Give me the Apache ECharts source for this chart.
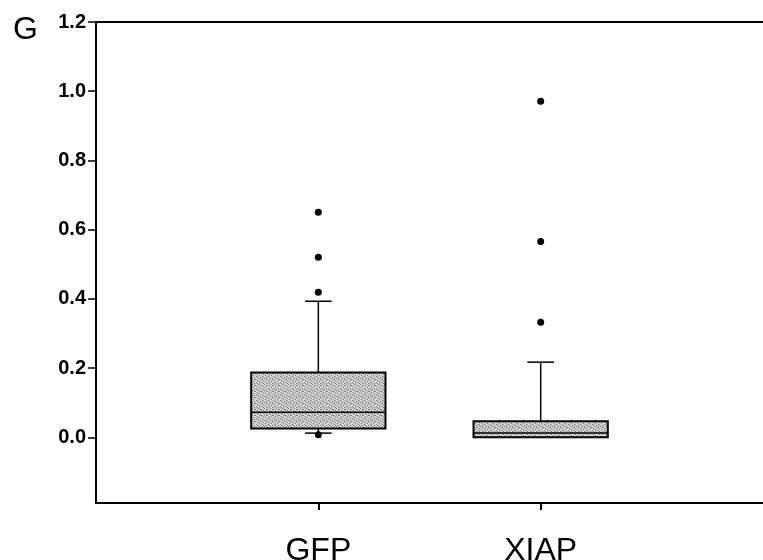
<!DOCTYPE html>
<html>
<head>
<meta charset="utf-8">
<script src="https://cdn.jsdelivr.net/npm/echarts@6/dist/echarts.min.js"></script>
<style>
  html, body { margin: 0; padding: 0; background: #fff; }
  #myChart { width: 763px; height: 560px; }
</style>
</head>
<body>
<div id="myChart"></div>
<script>
var categories = ['GFP', 'XIAP'];
var categoryPos = [1, 2];
var whiskerLow = [0.012, 0.0];
var quartile1 = [0.025, 0.0];
var median = [0.072, 0.012];
var quartile3 = [0.187, 0.046];
var whiskerHigh = [0.393, 0.217];
var outliersGFP = [0.650, 0.520, 0.419, 0.007];
var outliersXIAP = [0.971, 0.566, 0.332];
var yTicks = [0, 0.2, 0.4, 0.6, 0.8, 1.0, 1.2];

// stipple texture for the boxes
var tex = document.createElement('canvas');
tex.width = 6; tex.height = 6;
var tctx = tex.getContext('2d');
tctx.fillStyle = '#d0d0d0';
tctx.fillRect(0, 0, 6, 6);
tctx.fillStyle = '#777';
[[0,0],[3,1],[5,2],[1,3],[4,4],[2,5],[5,5],[2,1]].forEach(function (p) { tctx.fillRect(p[0], p[1], 1, 1); });

var boxData = categoryPos.map(function (x, i) {
    return [x, whiskerLow[i], quartile1[i], median[i], quartile3[i], whiskerHigh[i]];
});
var outlierData = [];
outliersGFP.forEach(function (v) { outlierData.push([categoryPos[0], v]); });
outliersXIAP.forEach(function (v) { outlierData.push([categoryPos[1], v]); });

var myChart = echarts.init(document.getElementById('myChart'));
var option = {
    animation: false,
    graphic: [{
        type: 'text', left: 13, top: 14,
        style: { text: 'G', font: '32px "Liberation Sans", Arial', fill: '#000' }
    }],
    grid: { left: 96, right: 0, top: 22, bottom: 57, outerBoundsMode: 'none', containLabel: false },
    xAxis: [{
        type: 'value', min: 0, max: 3,
        splitLine: { show: false },
        axisLine: { show: true, onZero: false, lineStyle: { color: '#000', width: 2 } },
        axisTick: { show: true, customValues: categoryPos, length: 7, lineStyle: { color: '#000', width: 2 } },
        axisLabel: {
            customValues: categoryPos, margin: 32,
            formatter: function (v) { return categories[categoryPos.indexOf(v)]; },
            fontFamily: '"Liberation Sans", Arial', fontSize: 32, color: '#000'
        }
    }, {
        type: 'value', min: 0, max: 3, position: 'top',
        splitLine: { show: false },
        axisLine: { show: true, onZero: false, lineStyle: { color: '#000', width: 2 } },
        axisTick: { show: false }, axisLabel: { show: false }
    }],
    yAxis: {
        type: 'value', min: -0.19, max: 1.2,
        splitLine: { show: false },
        axisLine: { show: true, onZero: false, lineStyle: { color: '#000', width: 2 } },
        axisTick: { show: true, customValues: yTicks, length: 8, lineStyle: { color: '#000', width: 1.5 } },
        axisLabel: {
            customValues: yTicks, margin: 10,
            formatter: function (v) { return v.toFixed(1); },
            fontFamily: '"Liberation Sans", Arial', fontWeight: 'bold', fontSize: 20, color: '#000'
        }
    },
    series: [{
        type: 'custom',
        data: boxData,
        renderItem: function (params, api) {
            var x = api.value(0);
            var lo = api.coord([x, api.value(1)]);
            var q1 = api.coord([x, api.value(2)]);
            var md = api.coord([x, api.value(3)]);
            var q3 = api.coord([x, api.value(4)]);
            var hi = api.coord([x, api.value(5)]);
            var boxW = api.size([0.604, 0])[0];
            var capW = api.size([0.12, 0])[0];
            var cx = q1[0];
            var line = { stroke: '#000', lineWidth: 1.5 };
            var kids = [
                { type: 'line', shape: { x1: cx, y1: q3[1], x2: cx, y2: hi[1] }, style: line },
                { type: 'line', shape: { x1: cx - capW / 2, y1: hi[1], x2: cx + capW / 2, y2: hi[1] }, style: line },
                { type: 'rect', shape: { x: cx - boxW / 2, y: q3[1], width: boxW, height: q1[1] - q3[1] },
                  style: { fill: { image: tex, repeat: 'repeat' }, stroke: '#000', lineWidth: 2 } },
                { type: 'line', shape: { x1: cx - boxW / 2, y1: md[1], x2: cx + boxW / 2, y2: md[1] }, style: line }
            ];
            if (lo[1] - q1[1] > 1) {
                kids.push({ type: 'line', shape: { x1: cx, y1: q1[1], x2: cx, y2: lo[1] }, style: line });
                kids.push({ type: 'line', shape: { x1: cx - capW / 2, y1: lo[1], x2: cx + capW / 2, y2: lo[1] }, style: line });
            }
            return { type: 'group', children: kids };
        }
    }, {
        type: 'scatter',
        data: outlierData,
        symbol: 'circle',
        symbolSize: 7,
        itemStyle: { color: '#000', opacity: 1 }
    }]
};
myChart.setOption(option);
</script>
</body>
</html>
